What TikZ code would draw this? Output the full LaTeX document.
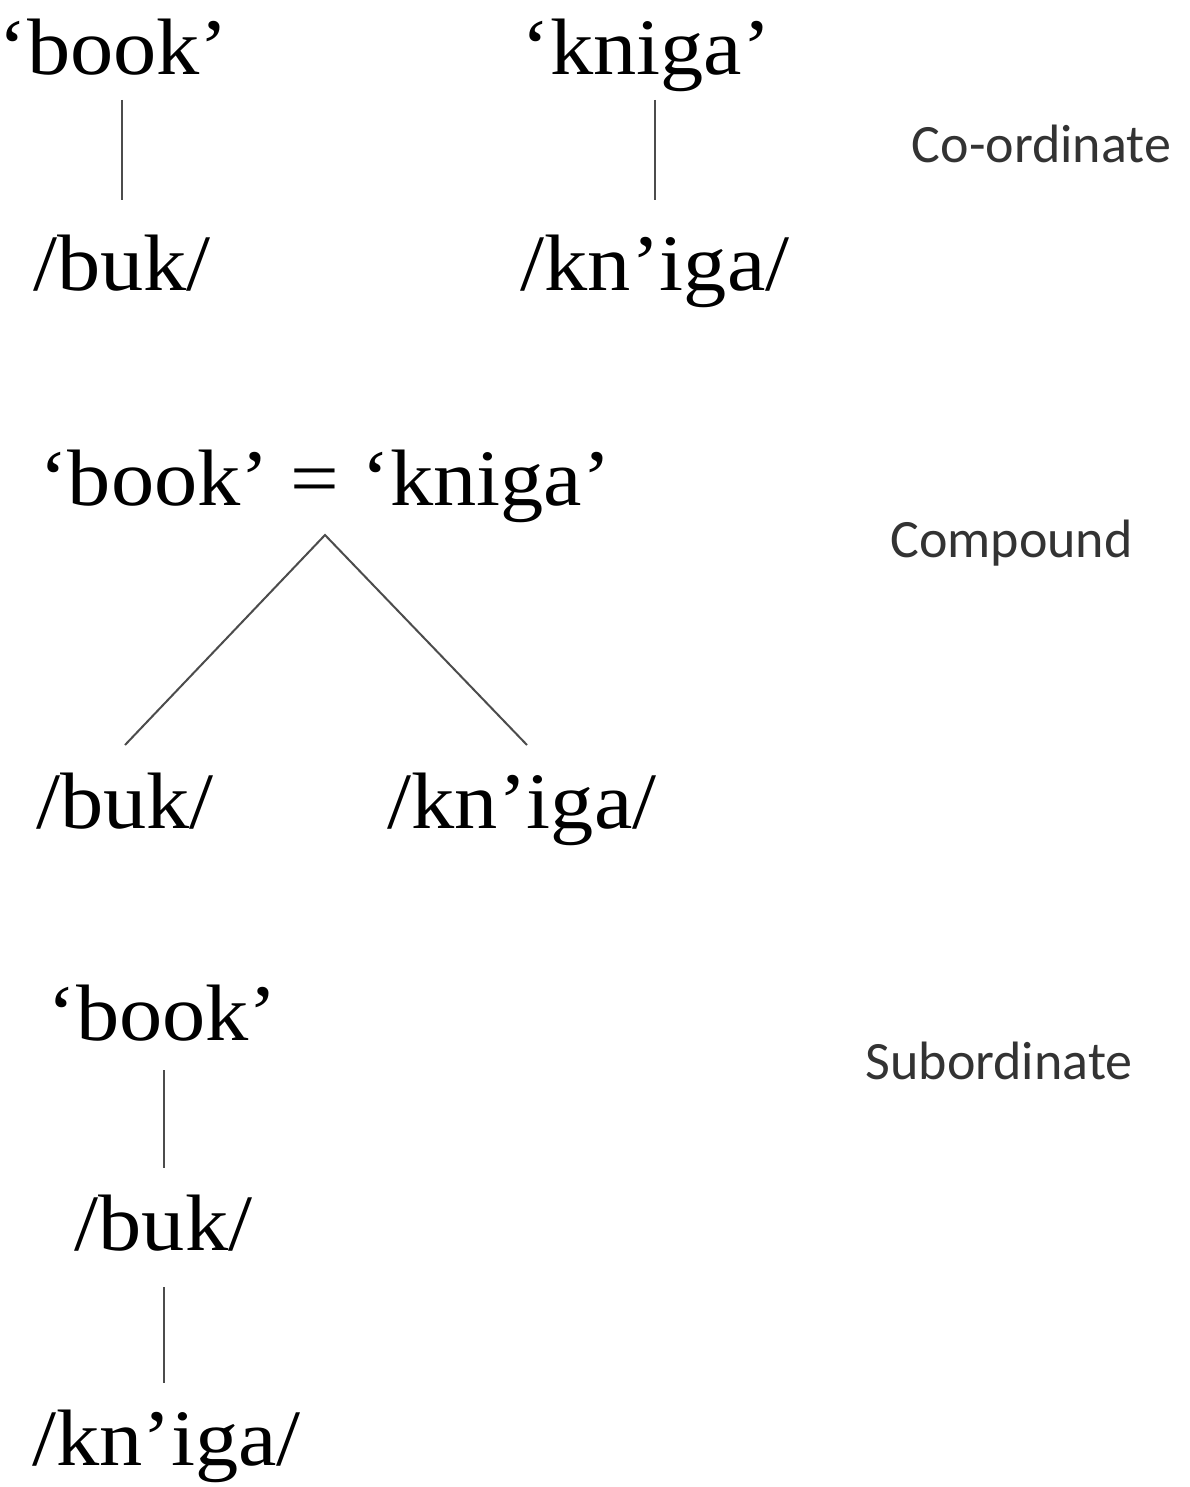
\documentclass[tikz,border=0pt]{standalone}
\usepackage{fontspec}
\setmainfont[FakeStretch=1.08]{Liberation Serif}
\newfontfamily\labelfont{Carlito}
\usetikzlibrary{calc}

\begin{document}
\begin{tikzpicture}[x=0.5pt,y=-0.5pt,
  word/.style={anchor=base,inner sep=0pt,font=\fontsize{40}{44}\selectfont},
  kind/.style={anchor=base,inner sep=0pt,text=black!80,font=\labelfont\fontsize{27}{30}\selectfont},
  link/.style={draw=black!70,line width=1pt}]
\useasboundingbox (0,0) rectangle (1189,1487);

% Co-ordinate bilingualism
\node[word] (b1)  at (113.5,75) {‘book’};
\node[word] (k1)  at (646,75)   {‘kniga’};
\node[word] (u1)  at (122,290)  {/buk/};
\node[word] (kn1) at (655,290)  {/kn’iga/};
\node[kind] (lab1) at (1041.5,163) {Co-ordinate};
\draw[link] ($(u1.base |- b1.base)+(0,25)$) -- ($(u1.base)+(0,-90)$);
\draw[link] ($(kn1.base |- k1.base)+(0,25)$) -- ($(kn1.base)+(0,-90)$);

% Compound bilingualism
\node[word] (c)  at (325,505) {‘book’ = ‘kniga’};
\node[word] (u2) at (125,828) {/buk/};
\node[word] (k2) at (522,828) {/kn’iga/};
\node[kind] (lab2) at (1011.5,557) {Compound};
\coordinate (apex) at ($(c.base)+(0,30)$);
\draw[link] ($(u2.base)+(0,-83)$) -- (apex) -- ($(k2.base)+(5,-83)$);

% Subordinate bilingualism
\node[word] (b3) at (162.5,1040) {‘book’};
\node[word] (u3) at (163.5,1250) {/buk/};
\node[word] (k3) at (166.5,1465) {/kn’iga/};
\node[kind] (lab3) at (999,1079) {Subordinate};
\draw[link] ($(u3.base |- b3.base)+(0,30)$) -- ($(u3.base)+(0,-82)$);
\draw[link] ($(u3.base)+(0,37)$) -- ($(u3.base |- k3.base)+(0,-82)$);
\end{tikzpicture}
\end{document}
